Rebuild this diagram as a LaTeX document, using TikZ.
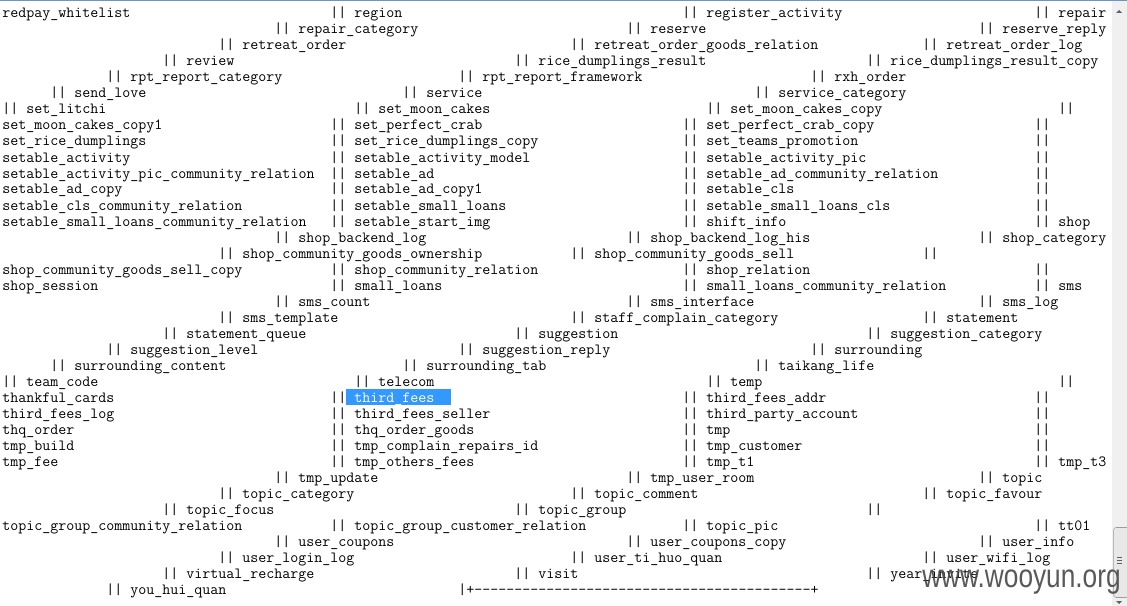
\documentclass[tikz,border=0pt]{standalone}
\usepackage{fontspec}
\usepackage{tikz}
\newfontfamily\markfont{Liberation Sans}
\definecolor{selblue}{RGB}{51,153,255}
\definecolor{barbg}{RGB}{240,240,240}
\definecolor{thumbfill}{RGB}{232,232,232}
\definecolor{thumbline}{RGB}{155,155,155}
\definecolor{arrowgray}{RGB}{96,96,96}
\definecolor{topblue}{RGB}{110,150,190}
\tikzset{tt/.style = {anchor = base west, inner sep = 0, font = \ttfamily\fontsize{11.66}{14}\selectfont}}
\tikzset{wmark/.style = {anchor = base west, inner sep = 0, text = black!72, text opacity = 0.9,
                         font = \markfont\fontsize{24.6}{30}\selectfont}}
\tikzset{thumb/.style = {fill = thumbfill, draw = thumbline, rounded corners = 2}}

\begin{document}
\begin{tikzpicture}[x = 0.75pt, y = -0.75pt]
  \fill [white] (0, 0) rectangle (1127, 606);
  \useasboundingbox (0, 0) rectangle (1127, 606);
  \fill [barbg] (1112, 1) rectangle (1127, 606);
  \draw [topblue] (0, 0.5) -- (1127, 0.5);
  \fill [arrowgray] (1116, 13) -- (1122, 13) -- (1119, 10) -- cycle;
  \fill [arrowgray] (1116, 601) -- (1122, 601) -- (1119, 604) -- cycle;
  \draw [thumb] (1113.5, 527.5) rectangle (1129, 597.5);
  \draw [arrowgray] (1117, 557.5) -- (1122, 557.5);
  \draw [arrowgray] (1117, 560.5) -- (1122, 560.5);
  \draw [arrowgray] (1117, 563.5) -- (1122, 563.5);
  \fill [selblue] (346, 389) rectangle (451, 405);
  \foreach \r/\c/\s in {1/0/redpay\_whitelist,
      1/41/|| region,
      1/85/|| register\_activity,
      1/129/|| repair,
      2/34/|| repair\_category,
      2/78/|| reserve,
      2/122/|| reserve\_reply,
      3/27/|| retreat\_order,
      3/71/|| retreat\_order\_goods\_relation,
      3/115/|| retreat\_order\_log,
      4/20/|| review,
      4/64/|| rice\_dumplings\_result,
      4/108/|| rice\_dumplings\_result\_copy,
      5/13/|| rpt\_report\_category,
      5/57/|| rpt\_report\_framework,
      5/101/|| rxh\_order,
      6/6/|| send\_love,
      6/50/|| service,
      6/94/|| service\_category,
      7/0/|| set\_litchi,
      7/44/|| set\_moon\_cakes,
      7/88/|| set\_moon\_cakes\_copy,
      7/132/||,
      8/0/set\_moon\_cakes\_copy1,
      8/41/|| set\_perfect\_crab,
      8/85/|| set\_perfect\_crab\_copy,
      8/129/||,
      9/0/set\_rice\_dumplings,
      9/41/|| set\_rice\_dumplings\_copy,
      9/85/|| set\_teams\_promotion,
      9/129/||,
      10/0/setable\_activity,
      10/41/|| setable\_activity\_model,
      10/85/|| setable\_activity\_pic,
      10/129/||,
      11/0/setable\_activity\_pic\_community\_relation,
      11/41/|| setable\_ad,
      11/85/|| setable\_ad\_community\_relation,
      11/129/||,
      12/0/setable\_ad\_copy,
      12/41/|| setable\_ad\_copy1,
      12/85/|| setable\_cls,
      12/129/||,
      13/0/setable\_cls\_community\_relation,
      13/41/|| setable\_small\_loans,
      13/85/|| setable\_small\_loans\_cls,
      13/129/||,
      14/0/setable\_small\_loans\_community\_relation,
      14/41/|| setable\_start\_img,
      14/85/|| shift\_info,
      14/129/|| shop,
      15/34/|| shop\_backend\_log,
      15/78/|| shop\_backend\_log\_his,
      15/122/|| shop\_category,
      16/27/|| shop\_community\_goods\_ownership,
      16/71/|| shop\_community\_goods\_sell,
      16/115/||,
      17/0/shop\_community\_goods\_sell\_copy,
      17/41/|| shop\_community\_relation,
      17/85/|| shop\_relation,
      17/129/||,
      18/0/shop\_session,
      18/41/|| small\_loans,
      18/85/|| small\_loans\_community\_relation,
      18/129/|| sms,
      19/34/|| sms\_count,
      19/78/|| sms\_interface,
      19/122/|| sms\_log,
      20/27/|| sms\_template,
      20/71/|| staff\_complain\_category,
      20/115/|| statement,
      21/20/|| statement\_queue,
      21/64/|| suggestion,
      21/108/|| suggestion\_category,
      22/13/|| suggestion\_level,
      22/57/|| suggestion\_reply,
      22/101/|| surrounding,
      23/6/|| surrounding\_content,
      23/50/|| surrounding\_tab,
      23/94/|| taikang\_life,
      24/0/|| team\_code,
      24/44/|| telecom,
      24/88/|| temp,
      24/132/||,
      25/0/thankful\_cards,
      25/41/|| \textcolor{white}{third\_fees},
      25/85/|| third\_fees\_addr,
      25/129/||,
      26/0/third\_fees\_log,
      26/41/|| third\_fees\_seller,
      26/85/|| third\_party\_account,
      26/129/||,
      27/0/thq\_order,
      27/41/|| thq\_order\_goods,
      27/85/|| tmp,
      27/129/||,
      28/0/tmp\_build,
      28/41/|| tmp\_complain\_repairs\_id,
      28/85/|| tmp\_customer,
      28/129/||,
      29/0/tmp\_fee,
      29/41/|| tmp\_others\_fees,
      29/85/|| tmp\_t1,
      29/129/|| tmp\_t3,
      30/34/|| tmp\_update,
      30/78/|| tmp\_user\_room,
      30/122/|| topic,
      31/27/|| topic\_category,
      31/71/|| topic\_comment,
      31/115/|| topic\_favour,
      32/20/|| topic\_focus,
      32/64/|| topic\_group,
      32/108/||,
      33/0/topic\_group\_community\_relation,
      33/41/|| topic\_group\_customer\_relation,
      33/85/|| topic\_pic,
      33/129/|| tt01,
      34/34/|| user\_coupons,
      34/78/|| user\_coupons\_copy,
      34/122/|| user\_info,
      35/27/|| user\_login\_log,
      35/71/|| user\_ti\_huo\_quan,
      35/115/|| user\_wifi\_log,
      36/20/|| virtual\_recharge,
      36/64/|| visit,
      36/108/|| year\_invite,
      37/13/|| you\_hui\_quan,
      37/57/|+------------------------------------------+}
    \node [tt] (t\r-\c) at ({2 + 8*\c}, {18 + 16*(\r - 1)}) {\s};
  \node [wmark] (wooyun) at (922, 587) {\scalebox{0.8}[1]{www.wooyun.org}};
\end{tikzpicture}
\end{document}
